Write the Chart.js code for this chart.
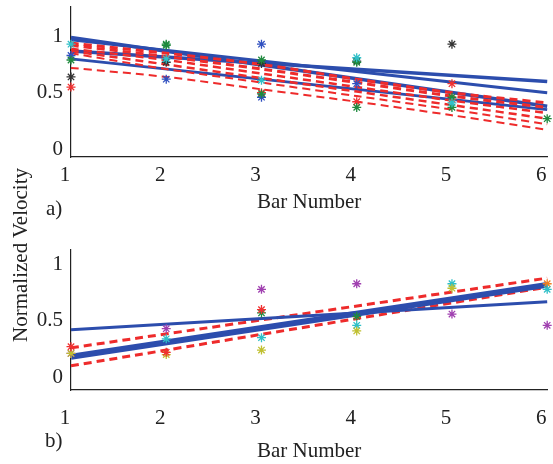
<!DOCTYPE html>
<html>
<head>
<meta charset="utf-8">
<script src="https://cdn.jsdelivr.net/npm/chart.js@4/dist/chart.umd.min.js"></script>
<style>
  body { margin: 0; background: #fff; }
  #wrap { position: relative; width: 553px; height: 464px; overflow: hidden; font-family: "Liberation Serif", "DejaVu Serif", serif; color: #222; }
  canvas { position: absolute; left: 0; }
  .lbl { position: absolute; font-size: 21px; line-height: 1; white-space: nowrap; }
</style>
</head>
<body>
<div id="wrap">
  <canvas id="chartA" width="553" height="215" style="top:0"></canvas>
  <canvas id="chartB" width="553" height="234" style="top:230px"></canvas>
  <div class="lbl" style="left:46px;top:198px">a)</div>
  <div class="lbl" style="left:45px;top:430px">b)</div>
  <div class="lbl" style="left:20px;top:255px;transform:translate(-50%,-50%) rotate(-90deg)">Normalized Velocity</div>
</div>
<script>
// axes
const barNumbers = [1, 2, 3, 4, 5, 6];
const xTicks = [1, 2, 3, 4, 5, 6];
const yTicks = [0, 0.5, 1];
const lineX = [1, 6];

// panel a) straight fits (value at bar 1 and bar 6)
const aBlueStart = [0.99, 0.97, 0.87, 0.80];
const aBlueEnd = [0.38, 0.50, 0.60, 0.35];

// panel a) dashed fits, read at each bar
const aRed1 = [0.94, 0.85, 0.75, 0.62, 0.50, 0.41];
const aRed2 = [0.92, 0.82, 0.71, 0.59, 0.47, 0.37];
const aRed3 = [0.89, 0.79, 0.67, 0.55, 0.43, 0.32];
const aRed4 = [0.87, 0.75, 0.63, 0.51, 0.39, 0.27];
const aRed5 = [0.85, 0.71, 0.59, 0.47, 0.35, 0.22];
const aRed6 = [0.72, 0.64, 0.53, 0.42, 0.30, 0.17];

// panel a) measured points
const aCyanX = [1, 2, 3, 4, 5];
const aCyanY = [0.93, 0.80, 0.61, 0.81, 0.41];
const aGreenX = [1, 2, 2, 3, 3, 4, 4, 5, 5, 6];
const aGreenY = [0.79, 0.93, 0.92, 0.79, 0.49, 0.77, 0.37, 0.46, 0.37, 0.27];
const aBlueX = [1, 2, 3, 3, 4];
const aBlueY = [0.83, 0.62, 0.93, 0.46, 0.58];
const aBlackX = [1, 2, 3, 4, 5];
const aBlackY = [0.64, 0.77, 0.76, 0.78, 0.93];
const aRedX = [1, 3, 4, 5, 5];
const aRedY = [0.55, 0.50, 0.42, 0.58, 0.44];

// panel b) straight fits (bar 1, bar 6)
const bBlueThin = [0.42, 0.67];
const bBlueThick = [0.18, 0.82];
const bRedUpper = [0.26, 0.88];
const bRedLower = [0.10, 0.80];

// panel b) measured points
const bRedX = [1, 2, 3];
const bRedY = [0.27, 0.22, 0.60];
const bYellowX = [1, 2, 3, 4, 5];
const bYellowY = [0.21, 0.20, 0.24, 0.41, 0.79];
const bPurpleX = [1, 2, 3, 4, 5, 6];
const bPurpleY = [0.21, 0.43, 0.78, 0.83, 0.56, 0.46];
const bCyanX = [2, 3, 4, 5, 6];
const bCyanY = [0.34, 0.35, 0.46, 0.83, 0.78];
const bGreenX = [3, 4];
const bGreenY = [0.57, 0.54];
const bOrangeX = [6];
const bOrangeY = [0.83];

const BLUE = '#2c4dad';
const RED = '#ee2b2b';

function pts(xs, ys){
    return xs.map((x, i) => ({x: x, y: ys[i]}));
}

function stars(xs, ys, color){
    return {
        data: pts(xs, ys),
        showLine: false,
        pointStyle: 'star',
        pointRadius: 4.5,
        pointBorderWidth: 1.3,
        pointBorderColor: color,
        pointBackgroundColor: color
    };
}

function solid(ys, width){
    return {
        data: pts(lineX, ys),
        showLine: true,
        borderColor: BLUE,
        borderWidth: width,
        pointRadius: 0
    };
}

function dashed(xs, ys, width){
    return {
        data: pts(xs, ys),
        showLine: true,
        borderColor: RED,
        borderWidth: width,
        borderDash: [8, 5],
        tension: 0.3,
        pointRadius: 0
    };
}

function noPad(s){
    s.paddingLeft = 0;
    s.paddingRight = 0;
    s.paddingTop = 0;
    s.paddingBottom = 0;
}

function makeOptions(yMin, yMax, xHeight, tickPad, padTop){
    const font = {family: '"Liberation Serif", serif', size: 21};
    return {
        responsive: false,
        animation: false,
        clip: false,
        layout: {padding: {left: 0, right: 5, top: padTop, bottom: 0}},
        plugins: {legend: {display: false}, tooltip: {enabled: false}},
        scales: {
            x: {
                type: 'linear', min: 1, max: 6,
                grid: {display: false, drawTicks: false},
                border: {display: true, color: '#222', width: 1.2},
                afterBuildTicks: s => { s.ticks = xTicks.map(v => ({value: v})); },
                afterFit: s => { s.height = xHeight; noPad(s); },
                ticks: {color: '#222', font: font, padding: tickPad, labelOffset: -6, maxRotation: 0,
                        callback: v => String(v)},
                title: {display: true, text: 'Bar Number', color: '#222', font: font, padding: {top: 0, bottom: 0}}
            },
            y: {
                min: yMin, max: yMax,
                grid: {display: false, drawTicks: false},
                border: {display: true, color: '#222', width: 1.2},
                afterBuildTicks: s => { s.ticks = yTicks.map(v => ({value: v})); },
                afterFit: s => { s.width = 71; noPad(s); },
                ticks: {color: '#222', font: font, padding: 8, callback: v => String(v)}
            }
        }
    };
}

const aDatasets = [
    stars(aCyanX, aCyanY, '#2fc0c8'),
    stars(aGreenX, aGreenY, '#1f8a3e'),
    stars(aBlueX, aBlueY, '#3050c0'),
    stars(aBlackX, aBlackY, '#333333'),
    stars(aRedX, aRedY, '#f03030'),
    dashed(barNumbers, aRed1, 3),
    dashed(barNumbers, aRed2, 3),
    dashed(barNumbers, aRed3, 2.5),
    dashed(barNumbers, aRed4, 2.5),
    dashed(barNumbers, aRed5, 2),
    dashed(barNumbers, aRed6, 2)
];
aBlueStart.forEach((v, i) => {
    aDatasets.push(solid([v, aBlueEnd[i]], i % 2 === 0 ? 3.5 : 3));
});

new Chart(document.getElementById('chartA').getContext('2d'), {
    type: 'scatter',
    data: {datasets: aDatasets},
    options: makeOptions(-0.07, 1.26, 58, 6, 7)
});

const bDatasets = [
    stars(bRedX, bRedY, '#f03030'),
    stars(bYellowX, bYellowY, '#c0c030'),
    stars(bPurpleX, bPurpleY, '#a040b0'),
    stars(bCyanX, bCyanY, '#2fc0c8'),
    stars(bGreenX, bGreenY, '#1f8a3e'),
    stars(bOrangeX, bOrangeY, '#f08020'),
    solid(bBlueThin, 3),
    solid(bBlueThick, 6),
    dashed(lineX, bRedUpper, 3),
    dashed(lineX, bRedLower, 3)
];

new Chart(document.getElementById('chartB').getContext('2d'), {
    type: 'scatter',
    data: {datasets: bDatasets},
    options: makeOptions(-0.115, 1.13, 74, 16, 20)
});
</script>
</body>
</html>
